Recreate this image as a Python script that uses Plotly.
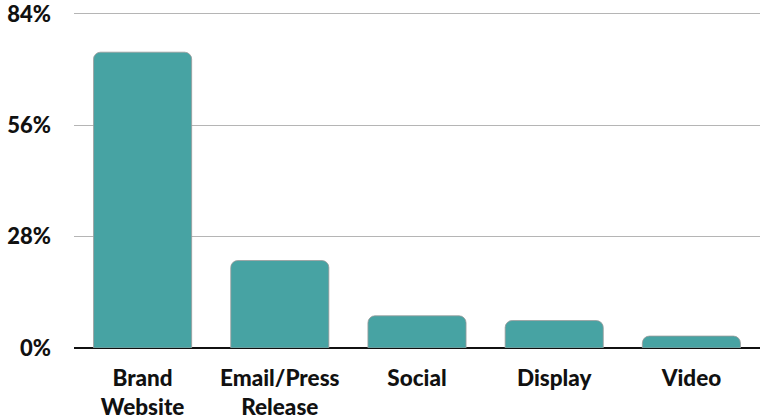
import plotly.graph_objects as go

categories = ["Brand<br>Website", "Email/Press<br>Release", "Social", "Display", "Video"]
values = [74.4, 22.0, 8.1, 6.9, 3.0]
tick_vals = [0, 28, 56, 84]
tick_text = ["0%", "28%", "56%", "84%"]

fig = go.Figure(go.Bar(
    x=categories, y=values,
    marker=dict(color="#47a3a3", line=dict(color="#9a9a9a", width=0.8), cornerradius=7),
    hoverinfo="skip",
))
fig.update_layout(
    width=760, height=420,
    margin=dict(l=74, r=0, t=10, b=70),
    paper_bgcolor="white", plot_bgcolor="white",
    bargap=0.285,
    font=dict(family="Lato", size=20, color="#111111"),
    showlegend=False,
)
fig.update_yaxes(range=[0, 84.5], tickmode="array", tickvals=tick_vals, ticktext=tick_text,
                 showgrid=True, gridcolor="#b5b5b5", gridwidth=1,
                 zeroline=True, zerolinecolor="#111111", zerolinewidth=2,
                 tickfont=dict(family="Lato", size=22, color="#111111", weight=900),
                 ticklabelstandoff=22, ticklabeloverflow="allow")
fig.update_xaxes(tickfont=dict(family="Lato", size=22.5, color="#111111", weight=900),
                 showline=False, ticks="", ticklabelstandoff=14)
fig.write_html("out.html")
